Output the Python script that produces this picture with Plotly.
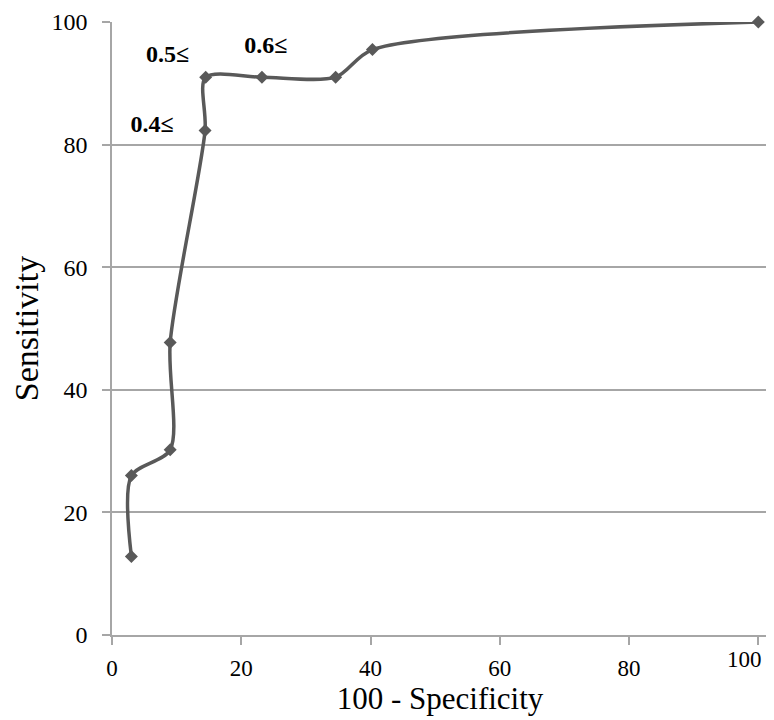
import plotly.graph_objects as go

# ROC points
fpr = [3, 3, 9, 9, 14.4, 14.5, 23.2, 34.6, 40.3, 100]
sens = [12.8, 26, 30.2, 47.7, 82.3, 91, 91, 91, 95.5, 100]

# axis ticks (the last x label is drawn as an annotation so it stays inside the page)
x_ticks = [0, 20, 40, 60, 80, 100]
x_ticktext = ["0", "20", "40", "60", "80", ""]
y_ticks = [0, 20, 40, 60, 80, 100]

# threshold labels
label_text = ["0.4≤", "0.5≤", "0.6≤"]
label_x = [6.2, 8.6, 23.8]
label_y = [83.1, 94.5, 95.9]

grey = "#595959"
grid = "#a6a6a6"
font_family = "Liberation Serif, Times New Roman, serif"

fig = go.Figure()

fig.add_trace(go.Scatter(
    x=fpr, y=sens,
    mode="lines+markers",
    line=dict(color=grey, width=3.5, shape="spline", smoothing=0.8),
    marker=dict(symbol="diamond", size=10, color=grey),
    cliponaxis=False,
    showlegend=False,
))

fig.add_trace(go.Scatter(
    x=label_x, y=label_y,
    mode="text",
    text=label_text,
    textfont=dict(family=font_family, size=24, color="black", weight="bold"),
    cliponaxis=False,
    showlegend=False,
))

fig.add_annotation(
    x=x_ticks[-1], y=0, xref="x", yref="paper",
    text=str(x_ticks[-1]), showarrow=False,
    xanchor="right", yanchor="top", xshift=6, yshift=-10,
    font=dict(family=font_family, size=23, color="black"),
)

# the page has an 8px body margin, so the figure is a bit smaller than the window
fig.update_layout(
    width=766, height=712,
    margin=dict(l=104, r=6, t=14, b=85),
    plot_bgcolor="white",
    paper_bgcolor="white",
    font=dict(family=font_family, size=23, color="black"),
)

fig.update_xaxes(
    range=[0, 101.5], tickvals=x_ticks, ticktext=x_ticktext,
    automargin=False, ticklabeloverflow="allow",
    showgrid=False, zeroline=False,
    showline=True, linecolor=grid, linewidth=1.5,
    ticks="outside", ticklen=8, tickcolor=grid, tickwidth=1.5,
    tickfont=dict(size=23), ticklabelstandoff=4,
    title=dict(text="100 - Specificity", font=dict(size=31), standoff=6),
)

fig.update_yaxes(
    range=[0, 100], tickvals=y_ticks,
    automargin=False, ticklabeloverflow="allow",
    showgrid=True, gridcolor=grid, gridwidth=1.5,
    zeroline=False,
    showline=True, linecolor=grid, linewidth=1.5,
    ticks="outside", ticklen=8, tickcolor=grid, tickwidth=1.5,
    tickfont=dict(size=24), ticklabelstandoff=10,
    title=dict(text="Sensitivity", font=dict(size=34), standoff=12),
)

fig.write_html("out.html")
